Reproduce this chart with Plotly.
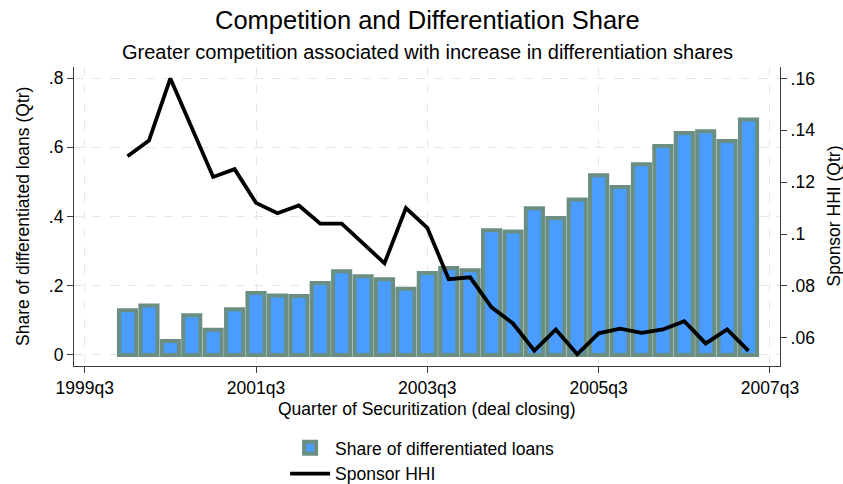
import plotly.graph_objects as go

# ---- data ----
quarters = ["2000q1","2000q2","2000q3","2000q4","2001q1","2001q2","2001q3","2001q4",
            "2002q1","2002q2","2002q3","2002q4","2003q1","2003q2","2003q3","2003q4",
            "2004q1","2004q2","2004q3","2004q4","2005q1","2005q2","2005q3","2005q4",
            "2006q1","2006q2","2006q3","2006q4","2007q1","2007q2"]
diff_share = [0.129, 0.143, 0.040, 0.115, 0.073, 0.132, 0.179, 0.172, 0.170, 0.208,
              0.242, 0.227, 0.219, 0.191, 0.237, 0.251, 0.245, 0.360, 0.357, 0.424,
              0.396, 0.449, 0.519, 0.485, 0.551, 0.604, 0.641, 0.646, 0.618, 0.680]
sponsor_hhi = [0.130, 0.136, 0.160, 0.141, 0.122, 0.125, 0.112, 0.108, 0.111, 0.104,
               0.104, 0.0964, 0.0887, 0.110, 0.1024, 0.0826, 0.0833, 0.0717, 0.0655, 0.055,
               0.0632, 0.0536, 0.0617, 0.0635, 0.0619, 0.0632, 0.0664, 0.0578, 0.0632, 0.0549]
x_tick_labels = ["1999q3", "2001q3", "2003q3", "2005q3", "2007q3"]
left_ticks = [0, 0.2, 0.4, 0.6, 0.8]
left_tick_text = ["0", ".2", ".4", ".6", ".8"]
right_ticks = [0.06, 0.08, 0.10, 0.12, 0.14, 0.16]
right_tick_text = [".06", ".08", ".1", ".12", ".14", ".16"]

def qindex(q):
    y, qq = q.split("q")
    return (int(y) - 1999) * 4 + int(qq) - 3   # quarters since 1999q3

x = [qindex(q) for q in quarters]
x_tick_vals = [qindex(t) for t in x_tick_labels]

FONT = "Liberation Sans, Arial, sans-serif"
GRID = "#e6e6e6"
AX = "#3c3c3c"
FS = 17.5

fig = go.Figure()
fig.add_trace(go.Bar(
    x=x, y=diff_share, width=0.8, name="Share of differentiated loans",
    marker=dict(color="#4a9cff", line=dict(color="#6b8e83", width=4)),
    yaxis="y"))
fig.add_trace(go.Scatter(
    x=x, y=sponsor_hhi, mode="lines", name="Sponsor HHI",
    line=dict(color="black", width=3.8), yaxis="y2"))

axis_common = dict(showline=True, linecolor=AX, linewidth=1.2, ticks="outside", ticklen=6,
                   tickcolor=AX, zeroline=False, tickfont=dict(size=FS), automargin=False)

fig.update_layout(
    width=843, height=484,
    paper_bgcolor="white", plot_bgcolor="white",
    margin=dict(l=73.5, r=63, t=67, b=118, autoexpand=False),
    font=dict(family=FONT, size=FS, color="black"),
    showlegend=True,
    legend=dict(orientation="v", x=0.299, xanchor="left", y=-0.214, yanchor="top",
                font=dict(size=FS), itemwidth=40, tracegroupgap=0,
                bgcolor="rgba(0,0,0,0)"),
    xaxis=dict(range=[-0.5, 32.47], tickvals=x_tick_vals, ticktext=x_tick_labels,
               showgrid=True, gridcolor=GRID, griddash="dash", gridwidth=1.2, **axis_common),
    yaxis=dict(range=[-0.032, 0.832], tickvals=left_ticks, ticktext=left_tick_text,
               showgrid=True, gridcolor=GRID, griddash="dash", gridwidth=1.2, **axis_common),
    yaxis2=dict(range=[0.0491, 0.1644], tickvals=right_ticks, ticktext=right_tick_text,
                overlaying="y", side="right", showgrid=False, **axis_common),
    annotations=[
        dict(text="Competition and Differentiation Share", xref="paper", yref="paper",
             x=0.5, y=1, yshift=47, xanchor="center", yanchor="middle", showarrow=False,
             font=dict(size=25.5)),
        dict(text="Greater competition associated with increase in differentiation shares",
             xref="paper", yref="paper", x=0.5, y=1, yshift=15, xanchor="center",
             yanchor="middle", showarrow=False, font=dict(size=20)),
        dict(text="Quarter of Securitization (deal closing)", xref="paper", yref="paper",
             x=0.5, y=0, yshift=-43, xanchor="center", yanchor="middle", showarrow=False,
             font=dict(size=FS)),
        dict(text="Share of differentiated loans (Qtr)", xref="paper", yref="paper",
             x=0, y=0.5, xshift=-51.5, xanchor="center", yanchor="middle", showarrow=False,
             textangle=-90, font=dict(size=FS)),
        dict(text="Sponsor HHI (Qtr)", xref="paper", yref="paper",
             x=1, y=0.5, xshift=53, xanchor="center", yanchor="middle", showarrow=False,
             textangle=-90, font=dict(size=FS)),
    ],
)

fig.write_html("out.html", config={"displayModeBar": False},
               post_script="document.body.style.margin='0';")
